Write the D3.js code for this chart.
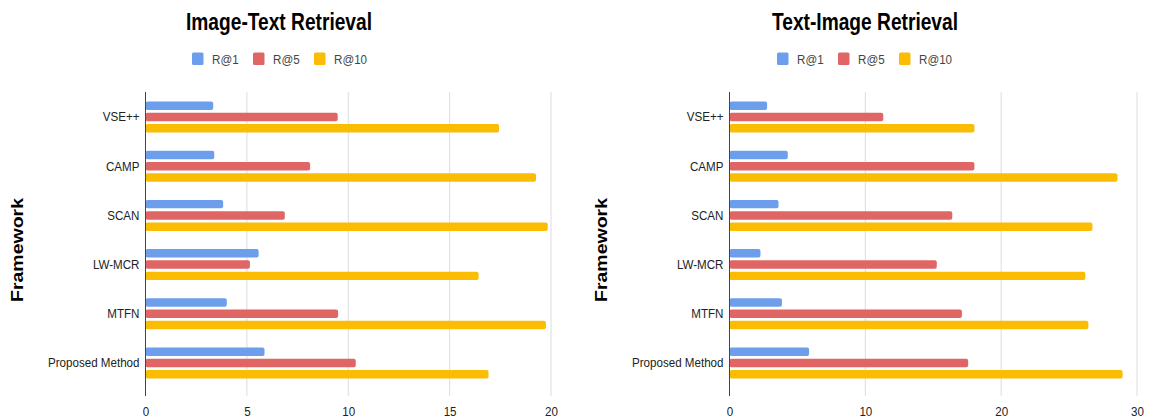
<!DOCTYPE html>
<html><head><meta charset="utf-8">
<script src="https://cdn.jsdelivr.net/npm/d3@7/dist/d3.min.js"></script>
<style>body{margin:0;background:#fff}svg{display:block}text{font-family:"Liberation Sans",Arial,sans-serif}</style>
</head><body><svg id="c" width="1150" height="420"></svg>
<script>
const categories = ["VSE++", "CAMP", "SCAN", "LW-MCR", "MTFN", "Proposed Method"];
const seriesNames = ["R@1", "R@5", "R@10"];
const seriesColors = ["#6d9eeb", "#e06666", "#fbbc04"];

const imageTextR1  = [3.34, 3.39, 3.83, 5.58, 4.01, 5.87];
const imageTextR5  = [9.48, 8.12, 6.87, 5.15, 9.50, 10.37];
const imageTextR10 = [17.44, 19.26, 19.84, 16.43, 19.75, 16.92];

const textImageR1  = [2.77, 4.29, 3.61, 2.28, 3.86, 5.86];
const textImageR5  = [11.32, 18.03, 16.40, 15.26, 17.11, 17.57];
const textImageR10 = [18.03, 28.56, 26.72, 26.20, 26.42, 28.94];

const imageTextTicks = [0, 5, 10, 15, 20];
const textImageTicks = [0, 10, 20, 30];
const panelTitles = ["Image-Text Retrieval", "Text-Image Retrieval"];
const yAxisTitle = "Framework";

const SX = 0.86;
const svg = d3.select("#c");
svg.append("rect").attr("width", 1150).attr("height", 420).attr("fill", "#fff");

function panel(o) {
  const g = svg.append("g");
  const top = 92, bottom = 396;
  const x = d3.scaleLinear().domain([0, d3.max(o.ticks)]).range([o.x0, o.x1]);
  const y = d3.scaleBand().domain(categories).range([92.4, 387.6]);
  const sub = d3.scaleBand().domain(seriesNames).range([-15.5, 15.5]).paddingInner(0.25);

  // gridlines
  g.selectAll("line.grid").data(o.ticks.filter(t => t > 0)).join("line")
    .attr("class", "grid")
    .attr("x1", d => x(d)).attr("x2", d => x(d))
    .attr("y1", top).attr("y2", bottom)
    .attr("stroke", "#dcdcdc").attr("stroke-width", 1);

  // bars
  const rows = categories.map((c, i) => ({ cat: c, vals: o.series.map(s => s[i]) }));
  const grp = g.selectAll("g.row").data(rows).join("g").attr("class", "row")
    .attr("transform", d => `translate(0,${y(d.cat) + y.bandwidth() / 2})`);
  grp.selectAll("rect").data(d => d.vals.map((v, k) => ({ v, k }))).join("rect")
    .attr("x", x(0))
    .attr("y", d => sub(seriesNames[d.k]))
    .attr("width", d => x(d.v) - x(0))
    .attr("height", sub.bandwidth())
    .attr("rx", 2)
    .attr("fill", d => seriesColors[d.k]);

  // axis line
  g.append("line").attr("x1", x(0)).attr("x2", x(0)).attr("y1", top).attr("y2", bottom)
    .attr("stroke", "#444").attr("stroke-width", 1);

  // bottom tick labels
  const xa = g.append("g").attr("transform", `translate(0,${bottom})`)
    .call(d3.axisBottom(x).tickValues(o.ticks).tickSize(0).tickPadding(10).tickFormat(d3.format("d")));
  xa.select(".domain").remove();
  xa.selectAll("text").attr("font-size", 13.5).attr("fill", "#222")
    .attr("font-family", '"Liberation Sans",Arial,sans-serif')
    .attr("transform", `scale(${SX},1)`);

  // category labels
  const ya = g.append("g").attr("transform", `translate(${x(0)},0)`)
    .call(d3.axisLeft(y).tickSize(0).tickPadding(7));
  ya.select(".domain").remove();
  ya.selectAll("text").attr("font-size", 13.5).attr("fill", "#222")
    .attr("font-family", '"Liberation Sans",Arial,sans-serif')
    .attr("transform", `scale(${SX},1)`);

  // title
  g.append("text").attr("x", o.titleCx).attr("y", 30)
    .attr("text-anchor", "middle").attr("font-size", 24).attr("font-weight", "bold")
    .attr("fill", "#000")
    .attr("textLength", 186).attr("lengthAdjust", "spacingAndGlyphs")
    .text(o.title);

  // legend
  const offs = [0, 61, 122];
  const lg = g.selectAll("g.leg").data(seriesNames).join("g").attr("class", "leg")
    .attr("transform", (d, i) => `translate(${o.legendX + offs[i]},0)`);
  lg.append("rect").attr("x", 0).attr("y", 52.5).attr("width", 11.5).attr("height", 12.5)
    .attr("rx", 1.5).attr("fill", (d, i) => seriesColors[i]);
  lg.append("text").attr("transform", `translate(20,64) scale(${SX},1)`)
    .attr("font-size", 13.5).attr("fill", "#444").text(d => d);

  // y axis title
  g.append("text").attr("transform", `translate(${o.fwX},250) scale(${SX},1) rotate(-90)`)
    .attr("text-anchor", "middle").attr("font-size", 19.5).attr("font-weight", "bold")
    .attr("fill", "#000").text(yAxisTitle);
}

panel({ title: panelTitles[0], ticks: imageTextTicks, x0: 145.5, x1: 551, titleCx: 279,
        legendX: 192, fwX: 23, series: [imageTextR1, imageTextR5, imageTextR10] });
panel({ title: panelTitles[1], ticks: textImageTicks, x0: 729.5, x1: 1137, titleCx: 865,
        legendX: 777, fwX: 607, series: [textImageR1, textImageR5, textImageR10] });
</script></body></html>
